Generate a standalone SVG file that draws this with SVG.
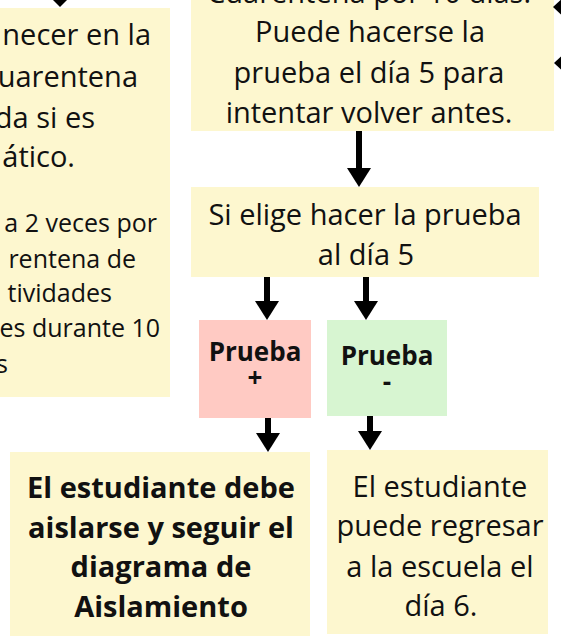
<svg xmlns="http://www.w3.org/2000/svg" width="561" height="637" viewBox="0 0 561 637">
<style>
.y{fill:#fdf7cf}
.pk{fill:#ffcac3}
.gr{fill:#d7f5d1}
text{font-family:"Open Sans","Noto Sans","DejaVu Sans",sans-serif;fill:#111}
.t{font-size:29px;text-anchor:middle}
.l{font-size:29px;text-anchor:end}
.s{font-size:25px;text-anchor:end}
.b{font-size:29px;font-weight:bold;text-anchor:middle}
.pb{font-size:26px;font-weight:bold;text-anchor:middle}
.ln{stroke:#000;stroke-width:6;fill:none}
.hd{fill:#000}
</style>
<rect width="561" height="637" fill="#fff"/>
<g id="node-left">
<rect class="y" x="-5" y="8" width="175" height="389"/>
<text class="l" x="151" y="45">necer en la</text>
<text class="l" x="138" y="87">uarentena</text>
<text class="l" x="95" y="128">da si es</text>
<text class="l" x="75" y="167">ático.</text>
<text class="s" x="157" y="232">a 2 veces por</text>
<text class="s" x="136" y="268">rentena de</text>
<text class="s" x="112" y="302">tividades</text>
<text class="s" x="160" y="337">es durante 10</text>
<text class="s" x="8" y="373">s</text>
</g>
<g id="node-cuarentena">
<rect class="y" x="191" y="-10" width="363" height="141"/>
<text class="t" x="369" y="3">Cuarentena por 10 días.</text>
<text class="t" x="370" y="42">Puede hacerse la</text>
<text class="t" x="369" y="83">prueba el día 5 para</text>
<text class="t" x="369" y="123">intentar volver antes.</text>
</g>
<g id="node-elige">
<rect class="y" x="191" y="187" width="348" height="90"/>
<text class="t" x="365" y="225">Si elige hacer la prueba</text>
<text class="t" x="366" y="265">al día 5</text>
</g>
<g id="node-positiva">
<rect class="pk" x="199" y="320" width="112" height="98"/>
<text class="pb" x="255" y="361">Prueba</text>
<text class="pb" x="255" y="387">+</text>
</g>
<g id="node-negativa">
<rect class="gr" x="327" y="320" width="120" height="96"/>
<text class="pb" x="387" y="365">Prueba</text>
<text class="pb" x="387" y="391">-</text>
</g>
<g id="node-aislamiento">
<rect class="y" x="10" y="452" width="300" height="184"/>
<text class="b" x="161" y="498">El estudiante debe</text>
<text class="b" x="161" y="538">aislarse y seguir el</text>
<text class="b" x="161" y="577">diagrama de</text>
<text class="b" x="161" y="617">Aislamiento</text>
</g>
<g id="node-regresar">
<rect class="y" x="327" y="450" width="221" height="184"/>
<text class="t" x="440" y="497">El estudiante</text>
<text class="t" x="440" y="536">puede regresar</text>
<text class="t" x="440" y="577">a la escuela el</text>
<text class="t" x="441" y="616">día 6.</text>
</g>
<g id="connectors">
<polygon class="hd" points="48,-5 72,-5 60,7"/>
<polygon class="hd" points="553,7 566,-5 566,19"/>
<polygon class="hd" points="554,63 567,51 567,75"/>
<line class="ln" x1="359" y1="131" x2="359" y2="170"/>
<polygon class="hd" points="347,168 371,168 359,187"/>
<line class="ln" x1="267" y1="277" x2="267" y2="302"/>
<polygon class="hd" points="255,301 279,301 267,320"/>
<line class="ln" x1="366" y1="277" x2="366" y2="302"/>
<polygon class="hd" points="354,301 378,301 366,320"/>
<line class="ln" x1="268" y1="418" x2="268" y2="434"/>
<polygon class="hd" points="256,433 280,433 268,452"/>
<line class="ln" x1="370" y1="416" x2="370" y2="432"/>
<polygon class="hd" points="358,431 382,431 370,450"/>
</g>
</svg>
